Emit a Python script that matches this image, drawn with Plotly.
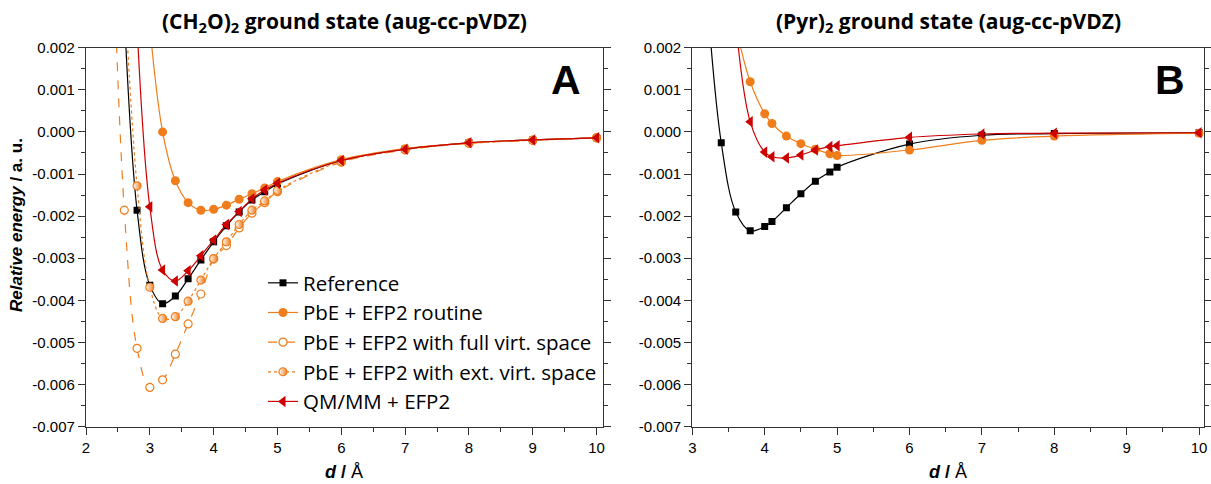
import plotly.graph_objects as go

# ---------------- data ----------------
# Panel A: (CH2O)2
a_ref_x = [2.6, 2.8, 3.0, 3.2, 3.4, 3.6, 3.8, 4.0, 4.2, 4.4, 4.6, 4.8, 5.0, 6, 7, 8, 9, 10]
a_ref_y = [0.0028, -0.00186, -0.00364, -0.00408, -0.0039, -0.00349, -0.00304, -0.00261,
           -0.00223, -0.0019, -0.00162, -0.00142, -0.00124, -0.00068, -0.00041, -0.00026, -0.00019, -0.00014]

a_rout_x = [3.0, 3.2, 3.4, 3.6, 3.8, 4.0, 4.2, 4.4, 4.6, 4.8, 5.0, 6, 7, 8, 9, 10]
a_rout_y = [0.0025, 0.0000, -0.00116, -0.00168, -0.00186, -0.00184, -0.00174, -0.0016,
            -0.00147, -0.00133, -0.00118, -0.00066, -0.0004, -0.00026, -0.00019, -0.00014]

a_full_x = [2.4, 2.6, 2.8, 3.0, 3.2, 3.4, 3.6, 3.8, 4.0, 4.2, 4.4, 4.6, 4.8, 5.0, 6, 7, 8, 9, 10]
a_full_y = [0.0055, -0.00186, -0.00514, -0.00607, -0.00589, -0.00528, -0.00456, -0.00385, -0.00302,
            -0.0027, -0.00228, -0.00193, -0.00168, -0.00142, -0.00072, -0.00043, -0.00027, -0.0002, -0.00014]

a_ext_x = [2.6, 2.8, 3.0, 3.2, 3.4, 3.6, 3.8, 4.0, 4.2, 4.4, 4.6, 4.8, 5.0, 6, 7, 8, 9, 10]
a_ext_y = [0.0035, -0.00128, -0.00369, -0.00443, -0.00439, -0.00402, -0.00352, -0.00301,
           -0.00261, -0.0022, -0.00186, -0.00164, -0.00139, -0.0007, -0.00042, -0.00027, -0.0002, -0.00014]

a_qm_x = [2.8, 3.0, 3.2, 3.4, 3.6, 3.8, 4.0, 4.2, 4.4, 4.6, 4.8, 5.0, 6, 7, 8, 9, 10]
a_qm_y = [0.0025, -0.00178, -0.00328, -0.00354, -0.0033, -0.00294, -0.00257, -0.0022,
          -0.00189, -0.00159, -0.00138, -0.00122, -0.00068, -0.00041, -0.00026, -0.00019, -0.00014]

# Panel B: (Pyr)2
b_ref_x = [3.2, 3.4, 3.6, 3.8, 4.0, 4.1, 4.3, 4.5, 4.7, 4.9, 5.0, 6, 7, 8, 10]
b_ref_y = [0.0033, -0.00026, -0.0019, -0.00235, -0.00225, -0.00213, -0.0018, -0.00147,
           -0.00117, -0.00095, -0.00084, -0.00029, -0.00008, -0.00004, -0.00002]

b_rout_x = [3.6, 3.8, 4.0, 4.1, 4.3, 4.5, 4.7, 4.9, 5.0, 6, 7, 8, 10]
b_rout_y = [0.0025, 0.00119, 0.00043, 0.0002, -0.0001, -0.00028, -0.00041, -0.00052,
            -0.00056, -0.00043, -0.0002, -0.0001, -0.00003]

b_qm_x = [3.6, 3.8, 4.0, 4.1, 4.3, 4.5, 4.7, 4.9, 5.0, 6, 7, 8, 10]
b_qm_y = [0.0026, 0.00024, -0.00048, -0.00059, -0.00062, -0.00055, -0.00043, -0.00035,
          -0.00033, -0.00013, -0.00005, -0.00003, -0.00002]

y_tickvals = [0.002, 0.001, 0.0, -0.001, -0.002, -0.003, -0.004, -0.005, -0.006, -0.007]
y_ticktext = ["0.002", "0.001", "0.000", "-0.001", "-0.002", "-0.003", "-0.004", "-0.005", "-0.006", "-0.007"]

names = ["Reference", "PbE + EFP2 routine", "PbE + EFP2 with full virt. space",
         "PbE + EFP2 with ext. virt. space", "QM/MM + EFP2"]

# ---------------- styles ----------------
BLACK = "#000000"
ORANGE = "#F07D1C"
RED = "#CC0000"
LW = 1.2

sty = {
    "ref": dict(line=dict(color=BLACK, width=LW, shape="spline"),
                marker=dict(symbol="square", size=7, color=BLACK)),
    "rout": dict(line=dict(color=ORANGE, width=LW, shape="spline"),
                 marker=dict(symbol="circle", size=9, color=ORANGE)),
    "full": dict(line=dict(color=ORANGE, width=LW, shape="spline", dash="dash"),
                 marker=dict(symbol="circle", size=8, color="white",
                             line=dict(color=ORANGE, width=1.2))),
    "ext": dict(line=dict(color=ORANGE, width=LW, shape="spline", dash="dot"),
                marker=dict(symbol="circle", size=8, color="white",
                            gradient=dict(type="horizontal", color=ORANGE),
                            line=dict(color=ORANGE, width=1.2))),
    "qm": dict(line=dict(color=RED, width=LW, shape="spline"),
               marker=dict(symbol="triangle-left", size=10, color=RED)),
}

fig = go.Figure()

def add(x, y, key, name, xa, ya, show):
    fig.add_trace(go.Scatter(x=x, y=y, mode="lines+markers", name=name,
                             legendgroup=key, showlegend=show,
                             xaxis=xa, yaxis=ya, **sty[key]))

add(a_ref_x, a_ref_y, "ref", names[0], "x", "y", True)
add(a_rout_x, a_rout_y, "rout", names[1], "x", "y", True)
add(a_full_x, a_full_y, "full", names[2], "x", "y", True)
add(a_ext_x, a_ext_y, "ext", names[3], "x", "y", True)
add(a_qm_x, a_qm_y, "qm", names[4], "x", "y", True)

add(b_ref_x, b_ref_y, "ref", names[0], "x2", "y2", False)
add(b_rout_x, b_rout_y, "rout", names[1], "x2", "y2", False)
add(b_qm_x, b_qm_y, "qm", names[4], "x2", "y2", False)

W, H = 1211, 484
def px(v): return v / W
def py(v): return 1 - v / H

tickfont = dict(family="Liberation Sans, Arial", size=15, color="#000")
axis_common = dict(showgrid=False, zeroline=False, showline=True, linecolor="#333",
                   linewidth=1.2, ticks="outside", ticklen=7, tickwidth=1.2, tickcolor="#333",
                   tickfont=tickfont, automargin=False)

xa = dict(axis_common, mirror=True, tickmode="linear", tick0=0, dtick=1,
          minor=dict(ticks="outside", ticklen=4, tickcolor="#333", tickmode="linear", tick0=0, dtick=0.5))
ya = dict(axis_common, mirror="ticks", tickmode="array", tickvals=y_tickvals, ticktext=y_ticktext,
          range=[-0.007, 0.002],
          minor=dict(ticks="outside", ticklen=4, tickcolor="#333", tickmode="linear", tick0=0, dtick=0.0005))

top, bottom = 47.7, 426.6
fig.update_layout(
    width=W, height=H,
    margin=dict(l=0, r=0, t=0, b=0, autoexpand=False),
    paper_bgcolor="white", plot_bgcolor="white",
    xaxis=dict(xa, domain=[px(86), px(602.6)], range=[2, 10.094], anchor="y"),
    yaxis=dict(ya, domain=[py(bottom), py(top)], anchor="x"),
    xaxis2=dict(xa, domain=[px(692.3), px(1204.3)], range=[3, 10.072], anchor="y2"),
    yaxis2=dict(ya, domain=[py(bottom), py(top)], anchor="x2"),
    showlegend=True,
    legend=dict(x=px(263), y=py(263), xanchor="left", yanchor="top",
                bgcolor="rgba(0,0,0,0)", tracegroupgap=0,
                font=dict(family="Open Sans, Noto Sans", size=20.5, color="#000")),
)

title_font = dict(family="Open Sans, Noto Sans", size=21, color="#000")
ann = [
    dict(x=px(344.3), y=py(22), text="<b>(CH<sub>2</sub>O)<sub>2</sub> ground state (aug-cc-pVDZ)</b>",
         font=title_font),
    dict(x=px(948.3), y=py(22), text="<b>(Pyr)<sub>2</sub> ground state (aug-cc-pVDZ)</b>",
         font=title_font),
    dict(x=px(566), y=py(80), text="<b>A</b>",
         font=dict(family="Liberation Sans, Arial", size=41, color="#000")),
    dict(x=px(1169.7), y=py(80), text="<b>B</b>",
         font=dict(family="Liberation Sans, Arial", size=41, color="#000")),
    dict(x=px(344.3), y=py(472), text="<b><i>d</i> /</b> Å",
         font=dict(family="Liberation Sans, Arial", size=18, color="#000")),
    dict(x=px(948.3), y=py(472), text="<b><i>d</i> /</b> Å",
         font=dict(family="Liberation Sans, Arial", size=18, color="#000")),
    dict(x=px(17), y=py(225), text="<b><i>Relative energy</i> / a. u.</b>", textangle=-90,
         font=dict(family="Liberation Sans, Arial", size=17, color="#000")),
]
for a in ann:
    a.update(xref="paper", yref="paper", showarrow=False, xanchor="center", yanchor="middle")
    fig.add_annotation(**a)

fig.write_html("out.html", config={"displayModeBar": False},
               post_script="document.body.style.margin='0';document.body.style.overflow='hidden';")
